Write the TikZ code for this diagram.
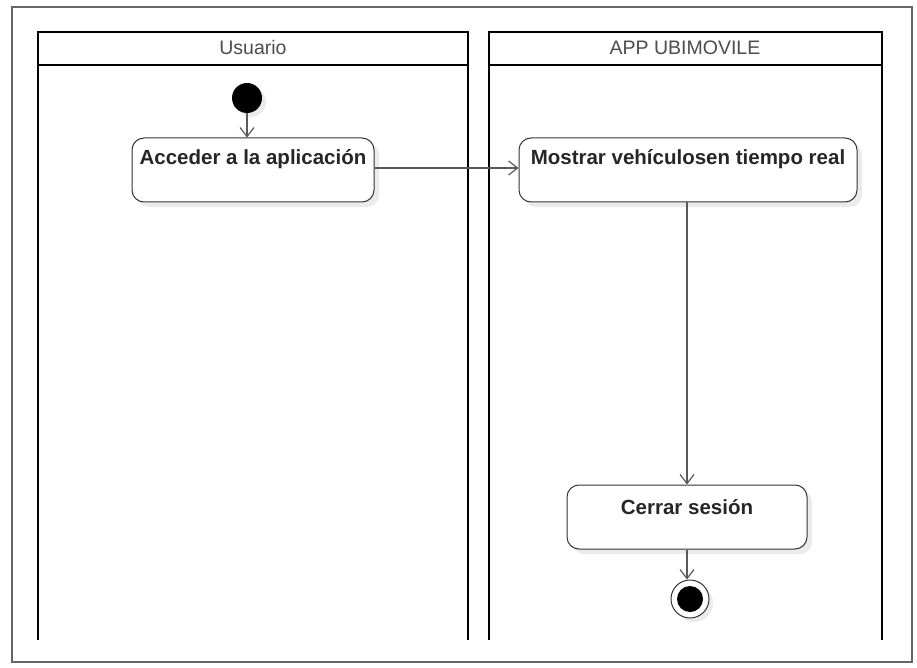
\documentclass[tikz,border=0pt]{standalone}
\usepackage{fontspec}
\setmainfont{Liberation Sans}
\usetikzlibrary{arrows.meta,shadows}
\begin{document}
\begin{tikzpicture}[x=1pt,y=-1pt,
  lane/.style={draw=black,line width=2pt},
  lanetitle/.style={font=\fontsize{19.5}{22}\selectfont,text=black!70},
  act/.style={draw=black!80,line width=1pt,rounded corners=12pt,fill=white,
    minimum height=64pt,inner sep=0pt,
    drop shadow={shadow xshift=5pt,shadow yshift=-5pt,fill=black!8,opacity=1}},
  acttext/.style={font=\bfseries\fontsize{20.5}{22}\selectfont,text=black!85},
  flow/.style={draw=black!65,line width=1.2pt,-{Straight Barb[length=9pt,width=14pt,line width=1.2pt]}},
  startst/.style={circle,fill=black,minimum size=30pt,inner sep=0pt,
    drop shadow={shadow xshift=4pt,shadow yshift=-4pt,fill=black!8,opacity=1}},
  endst/.style={circle,draw=black!80,line width=1pt,fill=white,minimum size=38pt,inner sep=0pt,
    drop shadow={shadow xshift=4pt,shadow yshift=-4pt,fill=black!8,opacity=1}}
]
\useasboundingbox (0,0) rectangle (917,668);
\fill[white] (0,0) rectangle (917,668);
\draw[black!60,line width=2pt] (12,7) rectangle (912,662);

% lanes
\draw[lane] (38,640) -- (38,32) -- (468,32) -- (468,640);
\draw[lane] (38,65) -- (468,65);
\node[lanetitle] (t1) at (253,48) {Usuario};
\draw[lane] (489,640) -- (489,32) -- (882,32) -- (882,640);
\draw[lane] (489,65) -- (882,65);
\node[lanetitle] (t2) at (685,48) {APP UBIMOVILE};

% nodes
\node[startst] (s) at (247,98) {};
\node[act,minimum width=242pt] (a) at (253,170) {};
\node[acttext,anchor=center] (at) at (253,159) {Acceder a la aplicación};
\node[act,minimum width=338pt] (m) at (688,170) {};
\node[acttext,anchor=center] (mt) at (688,159) {Mostrar vehículosen tiempo real};
\node[act,minimum width=240pt] (c) at (687,517) {};
\node[acttext,anchor=center] (ct) at (687,507) {Cerrar sesión};
\node[endst] (e) at (690,599) {};
\node[circle,fill=black,minimum size=26pt,inner sep=0pt] (ei) at (e) {};

% flows
\draw[flow] (s) -- (s.south |- a.north);
\draw[flow] (a.east |- 0,168) -- (m.west |- 0,168);
\draw[flow] (m.south -| 687,0) -- (c.north -| 687,0);
\draw[flow] (c.south -| 687,0) -- (e.north -| 687,0);
\end{tikzpicture}
\end{document}
